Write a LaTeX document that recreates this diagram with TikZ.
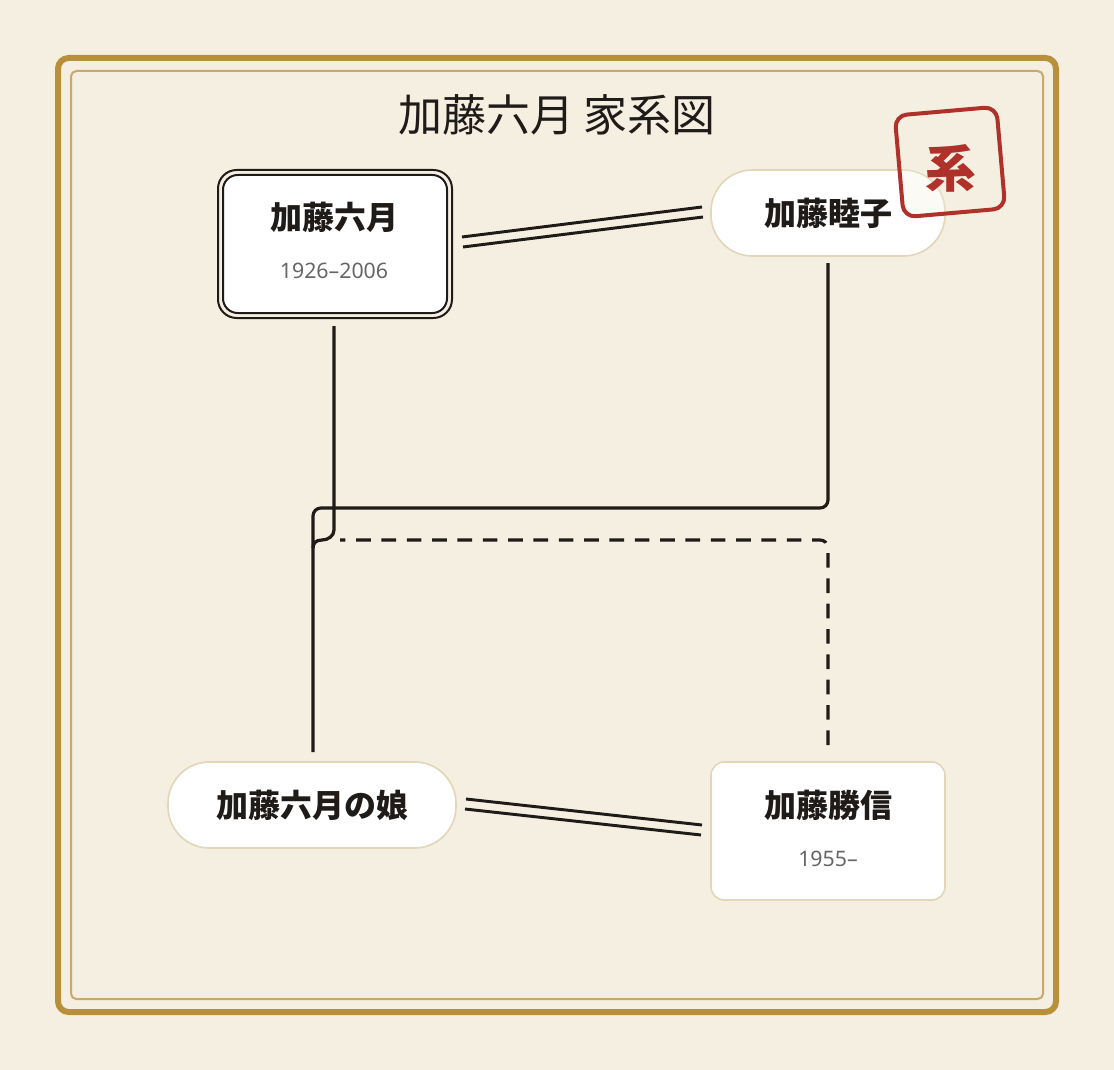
\documentclass[tikz,border=0pt]{standalone}
\usepackage{fontspec}
\newfontfamily\cjk{Noto Sans CJK JP}
\newfontfamily\yrsf{Noto Sans}
\definecolor{bg}{HTML}{F4EFE0}
\definecolor{gold}{HTML}{B8903C}
\definecolor{gold2}{HTML}{C9A86A}
\definecolor{bord}{HTML}{E2D6BA}
\definecolor{ink}{HTML}{1E1B18}
\definecolor{stamp}{HTML}{B0302A}
\begin{document}
\begin{tikzpicture}[x=0.75pt,y=-0.75pt,
  pname/.style={font=\cjk\bfseries\fontsize{24}{28}\selectfont,text=ink},
  yrs/.style={font=\yrsf\fontsize{16}{18}\selectfont,text=black!60},
  line/.style={draw=ink,line width=2.4pt,rounded corners=6pt},
  pill/.style={fill=white,draw=bord,line width=1.2pt,rounded corners=31pt}]
\fill[bg] (0,0) rectangle (1114,1070);
\useasboundingbox (0,0) rectangle (1114,1070);
\draw[gold,line width=4.5pt,rounded corners=8pt] (58,58) rectangle (1056,1012);
\draw[gold2,line width=1.5pt,rounded corners=4pt] (71,71) rectangle (1043,999);
\node[font=\cjk\fontsize{33}{38}\selectfont,text=ink] (title) at (557,115) {加藤六月 家系図};
% A
\draw[ink,line width=1.5pt,rounded corners=14pt] (218,170) rectangle (452,318);
\draw[ink,line width=1.5pt,fill=white,rounded corners=11pt] (223,175) rectangle (447,313);
\node[pname] (a) at (334,217) {加藤六月};
\node[yrs] (ay) at (334,271) {1926–2006};
% B
\draw[pill] (711,170) rectangle (945,256);
\node[pname] (b) at (828,213) {加藤睦子};
% C
\draw[pill] (168,762) rectangle (456,848);
\node[pname] (c) at (312,805) {加藤六月の娘};
% D
\draw[fill=white,draw=bord,line width=1.2pt,rounded corners=10pt] (711,762) rectangle (945,900);
\node[pname] (d) at (828,805) {加藤勝信};
\node[yrs] (dy) at (828,859) {1955–};
% marriage lines
\draw[ink,line width=2.2pt] (462,237)--(702,207) (463,247)--(703,217);
\draw[ink,line width=2.2pt] (466,799)--(702,825) (465,809)--(701,835);
% child lines
\draw[line] (828,263) -- (828,508) -- (313,508) -- (313,752);
\draw[line,dashed,dash pattern=on 11pt off 8pt] (828,745) -- (828,540) -- (340,540);
\draw[ink,line width=2.4pt] (334,326) -- (334,530) .. controls (334,536) and (328,540) .. (322,540) .. controls (316,540) and (313,543) .. (313,548);
% stamp
\begin{scope}[shift={(950,162)},rotate=5]
\draw[stamp,line width=3pt,rounded corners=9pt,fill=bg,fill opacity=0.3] (-51,-51) rectangle (51,51);
\node[font=\cjk\bfseries\fontsize{38}{42}\selectfont,text=stamp] (st) at (0,6) {系};
\end{scope}
\end{tikzpicture}
\end{document}
